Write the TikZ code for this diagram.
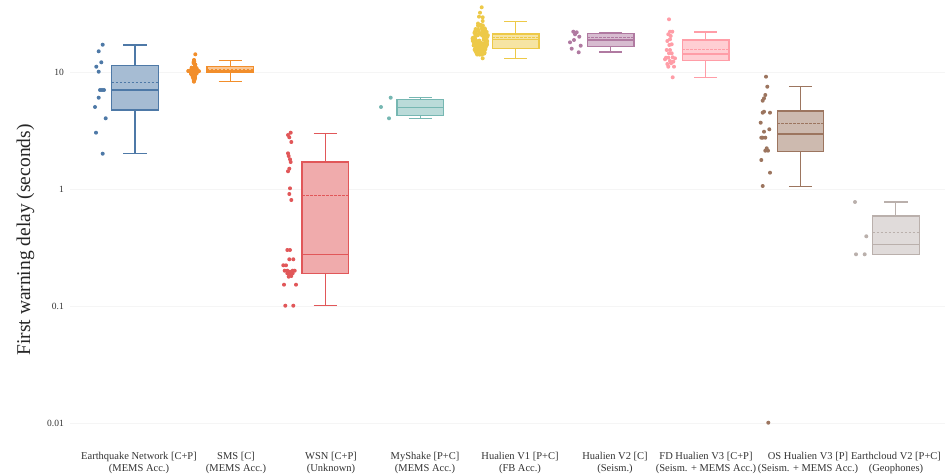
\documentclass[tikz,border=0pt]{standalone}
\usepackage{fontspec}
\setmainfont{Liberation Serif}
\usepackage{xcolor}
\usepackage{tikz}
\definecolor{cblue}{HTML}{4E79A7}
\definecolor{corange}{HTML}{F28E2B}
\definecolor{cred}{HTML}{E15759}
\definecolor{cteal}{HTML}{76B7B2}
\definecolor{cyellow}{HTML}{EDC948}
\definecolor{cpurple}{HTML}{B07AA1}
\definecolor{cpink}{HTML}{FF9DA7}
\definecolor{cbrown}{HTML}{9C755F}
\definecolor{cgray}{HTML}{BAB0AC}
\begin{document}
\begin{tikzpicture}[x=1pt,y=-1pt]
\tikzstyle{grid}=[draw=black!4,line width=0.8pt]
\tikzstyle{bx}=[line width=1.2pt]
\tikzstyle{mn}=[line width=1pt,dash pattern=on 2.5pt off 1.5pt]
\tikzstyle{tick}=[anchor=east,inner sep=0pt,font=\fontsize{9.5}{11}\selectfont,text=black!80]
\tikzstyle{cat}=[anchor=north,align=center,inner sep=0pt,font=\fontsize{10.5}{12.5}\selectfont,text=black!80]
\useasboundingbox (0,0) rectangle (945,476);
\clip (0,0) rectangle (945,476);
% y axis (log scale, one decade = 117px)
\node[tick] (t10) at (64,72) {10};
\node[tick] (t1) at (64,189) {1};
\node[tick] (t01) at (64,306) {0.1};
\node[tick] (t001) at (64,423) {0.01};
\draw[grid] (70,72) -- (945,72);
\draw[grid] (70,189) -- (945,189);
\draw[grid] (70,306) -- (945,306);
\draw[grid] (70,423) -- (945,423);
\node[rotate=90,font=\fontsize{19.5}{22}\selectfont,text=black!85] (ylab) at (25.5,240) {First warning delay (seconds)};
% category labels
\node[cat] (l1) at (139,452) {Earthquake Network [C+P]\\(MEMS Acc.)};
\node[cat] (l2) at (236,452) {SMS [C]\\(MEMS Acc.)};
\node[cat] (l3) at (331,452) {WSN [C+P]\\(Unknown)};
\node[cat] (l4) at (425,452) {MyShake [P+C]\\(MEMS Acc.)};
\node[cat] (l5) at (520,452) {Hualien V1 [P+C]\\(FB Acc.)};
\node[cat] (l6) at (615,452) {Hualien V2 [C]\\(Seism.)};
\node[cat] (l7) at (706,452) {FD Hualien V3 [C+P]\\(Seism. + MEMS Acc.)};
\node[cat] (l8) at (808,452) {OS Hualien V3 [P]\\(Seism. + MEMS Acc.)};
\node[cat] (l9) at (896,452) {Earthcloud V2 [P+C]\\(Geophones)};
% Earthquake Network
\draw[cblue,bx,fill=cblue!50] (111.7,65.7) rectangle (158.3,110);
\draw[cblue,bx] (111.7,90) -- (158.3,90) (135,65.7) -- (135,45) (123.3,45) -- (146.7,45) (135,110) -- (135,153.7) (123.3,153.7) -- (146.7,153.7);
\draw[cblue,mn] (111.7,82.3) -- (158.3,82.3);
\foreach \x/\y in {102.7/44.7,98.7/51.3,101.3/62.3,96.3/66.7,98.7/71.7,100/90,102/90,104/90,98.7/97.7,95/107,105.7/118.3,96/132.7,102.7/153.7}
  \fill[cblue] (\x,\y) circle (2pt);
% SMS
\draw[corange,bx,fill=corange!50] (206.9,66.7) rectangle (253.5,72.7);
\draw[corange,bx] (206.9,71) -- (253.5,71) (230.2,66.7) -- (230.2,60.7) (218.5,60.7) -- (241.9,60.7) (230.2,72.7) -- (230.2,81.7) (218.5,81.7) -- (241.9,81.7);
\draw[corange,mn] (206.9,69.5) -- (253.5,69.5);
\pgfmathsetseed{3}
\foreach \i in {1,...,70}{
  \pgfmathsetmacro{\uu}{rand}
  \pgfmathsetmacro{\yy}{71+11*\uu*abs(\uu)}
  \pgfmathsetmacro{\xx}{194+6*(1-abs(\uu))*rand}
  \fill[corange] (\xx,\yy) circle (2pt);
}
\fill[corange] (195.3,54.3) circle (2pt);
% WSN
\draw[cred,bx,fill=cred!50] (302,162) rectangle (348.6,273.3);
\draw[cred,bx] (302,254.7) -- (348.6,254.7) (325.3,162) -- (325.3,133.3) (313.6,133.3) -- (337,133.3) (325.3,273.3) -- (325.3,305.7) (313.6,305.7) -- (337,305.7);
\draw[cred,mn] (302,195.7) -- (348.6,195.7);
\foreach \x/\y in {290.7/132.7,288/135,289.3/137.3,291.3/142,288/153.3,288.7/156,290/159.3,290.7/162,289.3/168.7,288/171.3,290/188.3,289.3/194,291.3/200,287.3/250,290/250,289.3/259.3,293.3/259.3,283.3/265.3,286/265.3,284.7/270.7,287.3/270.7,290/271.7,292.7/270.7,294.7/270.7,287.3/273.3,290/274.3,292.7/273.3,288.7/276.7,291.3/276,284/284.7,296/284.7,285.3/305.7,293.3/305.7}
  \fill[cred] (\x,\y) circle (2pt);
% MyShake
\draw[cteal,bx,fill=cteal!50] (397,99.3) rectangle (443.6,115.7);
\draw[cteal,bx] (397,107.3) -- (443.6,107.3) (420.3,99.3) -- (420.3,97.7) (408.6,97.7) -- (432,97.7) (420.3,115.7) -- (420.3,118.3) (408.6,118.3) -- (432,118.3);
\foreach \x/\y in {390.7/97.7,381/107,389/118.3}
  \fill[cteal] (\x,\y) circle (2pt);
% Hualien V1
\draw[cyellow,bx,fill=cyellow!50] (492.4,34) rectangle (539,48.3);
\draw[cyellow,bx] (492.4,39.5) -- (539,39.5) (515.7,34) -- (515.7,21.7) (504,21.7) -- (527.4,21.7) (515.7,48.3) -- (515.7,58.7) (504,58.7) -- (527.4,58.7);
\draw[cyellow,mn] (492.4,37.3) -- (539,37.3);
\pgfmathsetseed{11}
\foreach \i in {1,...,130}{
  \pgfmathsetmacro{\uu}{rand}
  \pgfmathsetmacro{\yy}{40+15*\uu}
  \pgfmathsetmacro{\xx}{480.5+8*(1-0.6*\uu*\uu)*rand}
  \fill[cyellow] (\xx,\yy) circle (2pt);
}
\foreach \x/\y in {481.7/7.3,480/12.7,479/16.7,482.7/17.3,482.7/21,478/23.5,482.7/58.3}
  \fill[cyellow] (\x,\y) circle (2pt);
% Hualien V2
\draw[cpurple,bx,fill=cpurple!50] (587.4,33.3) rectangle (634,46.7);
\draw[cpurple,bx] (587.4,40) -- (634,40) (610.7,33.3) -- (610.7,32.3) (599,32.3) -- (622.4,32.3) (610.7,46.7) -- (610.7,52) (599,52) -- (622.4,52);
\draw[cpurple,mn] (587.4,37.8) -- (634,37.8);
\foreach \x/\y in {573.3/31.7,576.7/32.3,575/34.3,579.3/36.7,574/40,570/42.3,580.7/45.7,571.7/48.7,578.7/52.3}
  \fill[cpurple] (\x,\y) circle (2pt);
% FD Hualien V3
\draw[cpink,bx,fill=cpink!50] (682.4,40) rectangle (729,60.3);
\draw[cpink,bx] (682.4,54) -- (729,54) (705.7,40) -- (705.7,32) (694,32) -- (717.4,32) (705.7,60.3) -- (705.7,77.3) (694,77.3) -- (717.4,77.3);
\draw[cpink,mn] (682.4,49.3) -- (729,49.3);
\foreach \x/\y in {669/19.3,670/31.7,672.3/31.7,668.3/34.3,670.7/36,670/39.3,667.3/41,671.7/44.3,669.3/45,666.7/50,670/50,669/53.3,671.7/53.3,666/57.7,668.3/57.7,672.7/57.3,675/58.3,665/59.3,670/61,673.3/61.7,667.3/64,671/63.3,668.3/66.7,674/66.7,672.7/77.3}
  \fill[cpink] (\x,\y) circle (2pt);
% OS Hualien V3
\draw[cbrown,bx,fill=cbrown!50] (777.2,111) rectangle (823.8,151.7);
\draw[cbrown,bx] (777.2,134) -- (823.8,134) (800.5,111) -- (800.5,86.3) (788.8,86.3) -- (812.2,86.3) (800.5,151.7) -- (800.5,186.3) (788.8,186.3) -- (812.2,186.3);
\draw[cbrown,mn] (777.2,123.7) -- (823.8,123.7);
\foreach \x/\y in {766/76.7,767.3/86.7,765.3/95,764/98.3,762.7/100.7,764/111.7,762.7/112.7,770/112.7,760.7/122.7,764/131.7,769.3/129.3,762.7/137.7,761.3/137.7,765.3/137.7,765.3/150.7,768/150.7,766.7/148.3,761.3/160,770/172.7,762.7/186,768.3/422.7}
  \fill[cbrown] (\x,\y) circle (2pt);
% Earthcloud V2
\draw[cgray,bx,fill=cgray!45] (872.5,216) rectangle (919.1,254.3);
\draw[cgray,bx] (872.5,244.3) -- (919.1,244.3) (895.8,216) -- (895.8,202) (884.1,202) -- (907.5,202);
\draw[cgray,mn] (872.5,232) -- (919.1,232);
\foreach \x/\y in {855/202,866.3/236.3,856/254.3,864.7/254.3}
  \fill[cgray] (\x,\y) circle (2pt);
\end{tikzpicture}
\end{document}
